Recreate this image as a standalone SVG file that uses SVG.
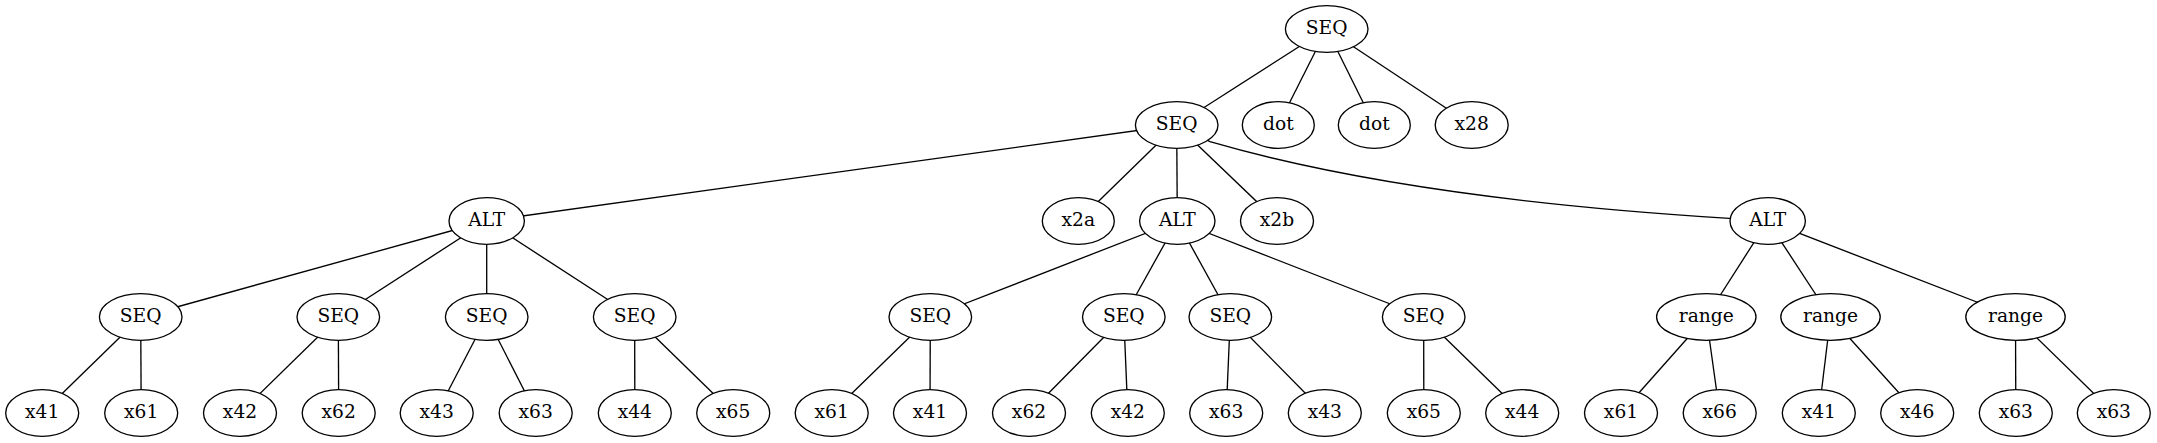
<svg xmlns="http://www.w3.org/2000/svg" width="2157" height="443" viewBox="0 0 2157 443">
<style>
.n ellipse{fill:#fff;stroke:#000;stroke-width:1.33}
.n text{font-family:"DejaVu Serif","Liberation Serif",serif;font-size:18.67px;text-anchor:middle;fill:#000}
#edges line,#edges path{stroke:#000;stroke-width:1.33;fill:none}
</style>
<rect width="2157" height="443" fill="#fff"/>
<g id="edges">
<line x1="1326.7" y1="29" x2="1176.7" y2="125"/>
<line x1="1326.7" y1="29" x2="1278.3" y2="125"/>
<line x1="1326.7" y1="29" x2="1374.3" y2="125"/>
<line x1="1326.7" y1="29" x2="1471.7" y2="125"/>
<line x1="1176.7" y1="125" x2="486.7" y2="221"/>
<line x1="1176.7" y1="125" x2="1078.3" y2="221"/>
<line x1="1176.7" y1="125" x2="1177.3" y2="221"/>
<line x1="1176.7" y1="125" x2="1277" y2="221"/>
<path d="M1176.7 125 L1210 141.7 C1340.7 179.7 1513.8 205.2 1729.3 218.3 L1767.7 221"/>
<line x1="486.7" y1="221" x2="140.7" y2="317"/>
<line x1="486.7" y1="221" x2="338.3" y2="317"/>
<line x1="486.7" y1="221" x2="486.7" y2="317"/>
<line x1="486.7" y1="221" x2="634.7" y2="317"/>
<line x1="1177.3" y1="221" x2="930.3" y2="317"/>
<line x1="1177.3" y1="221" x2="1123.8" y2="317"/>
<line x1="1177.3" y1="221" x2="1230.3" y2="317"/>
<line x1="1177.3" y1="221" x2="1423.7" y2="317"/>
<line x1="1767.7" y1="221" x2="1706.3" y2="317"/>
<line x1="1767.7" y1="221" x2="1830.5" y2="317"/>
<line x1="1767.7" y1="221" x2="2015.5" y2="317"/>
<line x1="140.7" y1="317" x2="42.2" y2="413"/>
<line x1="140.7" y1="317" x2="141.2" y2="413"/>
<line x1="338.3" y1="317" x2="240" y2="413"/>
<line x1="338.3" y1="317" x2="338.7" y2="413"/>
<line x1="486.7" y1="317" x2="436.7" y2="413"/>
<line x1="486.7" y1="317" x2="535.7" y2="413"/>
<line x1="634.7" y1="317" x2="634.8" y2="413"/>
<line x1="634.7" y1="317" x2="733.2" y2="413"/>
<line x1="930.3" y1="317" x2="831.7" y2="413"/>
<line x1="930.3" y1="317" x2="930" y2="413"/>
<line x1="1123.8" y1="317" x2="1029" y2="413"/>
<line x1="1123.8" y1="317" x2="1127.8" y2="413"/>
<line x1="1230.3" y1="317" x2="1226.2" y2="413"/>
<line x1="1230.3" y1="317" x2="1324.8" y2="413"/>
<line x1="1423.7" y1="317" x2="1423.8" y2="413"/>
<line x1="1423.7" y1="317" x2="1522.2" y2="413"/>
<line x1="1706.3" y1="317" x2="1621" y2="413"/>
<line x1="1706.3" y1="317" x2="1719.7" y2="413"/>
<line x1="1830.5" y1="317" x2="1818.8" y2="413"/>
<line x1="1830.5" y1="317" x2="1917.2" y2="413"/>
<line x1="2015.5" y1="317" x2="2015.8" y2="413"/>
<line x1="2015.5" y1="317" x2="2113.8" y2="413"/>
</g>
<g id="n0" class="n"><ellipse cx="1326.7" cy="29" rx="41.3" ry="23.3"/><text x="1326.7" y="34.3">SEQ</text></g>
<g id="n1" class="n"><ellipse cx="1176.7" cy="125" rx="41.3" ry="23.3"/><text x="1176.7" y="130.3">SEQ</text></g>
<g id="n2" class="n"><ellipse cx="1278.3" cy="125" rx="36" ry="23.3"/><text x="1278.3" y="130.3">dot</text></g>
<g id="n3" class="n"><ellipse cx="1374.3" cy="125" rx="36" ry="23.3"/><text x="1374.3" y="130.3">dot</text></g>
<g id="n4" class="n"><ellipse cx="1471.7" cy="125" rx="36.5" ry="23.3"/><text x="1471.7" y="130.3">x28</text></g>
<g id="n5" class="n"><ellipse cx="486.7" cy="221" rx="37.7" ry="23.3"/><text x="486.7" y="226.3">ALT</text></g>
<g id="n6" class="n"><ellipse cx="1078.3" cy="221" rx="36" ry="23.3"/><text x="1078.3" y="226.3">x2a</text></g>
<g id="n7" class="n"><ellipse cx="1177.3" cy="221" rx="37.7" ry="23.3"/><text x="1177.3" y="226.3">ALT</text></g>
<g id="n8" class="n"><ellipse cx="1277" cy="221" rx="36.5" ry="23.3"/><text x="1277" y="226.3">x2b</text></g>
<g id="n9" class="n"><ellipse cx="1767.7" cy="221" rx="37.7" ry="23.3"/><text x="1767.7" y="226.3">ALT</text></g>
<g id="n10" class="n"><ellipse cx="140.7" cy="317" rx="41.3" ry="23.3"/><text x="140.7" y="322.3">SEQ</text></g>
<g id="n11" class="n"><ellipse cx="338.3" cy="317" rx="41.3" ry="23.3"/><text x="338.3" y="322.3">SEQ</text></g>
<g id="n12" class="n"><ellipse cx="486.7" cy="317" rx="41.3" ry="23.3"/><text x="486.7" y="322.3">SEQ</text></g>
<g id="n13" class="n"><ellipse cx="634.7" cy="317" rx="41.3" ry="23.3"/><text x="634.7" y="322.3">SEQ</text></g>
<g id="n14" class="n"><ellipse cx="930.3" cy="317" rx="41.3" ry="23.3"/><text x="930.3" y="322.3">SEQ</text></g>
<g id="n15" class="n"><ellipse cx="1123.8" cy="317" rx="41.3" ry="23.3"/><text x="1123.8" y="322.3">SEQ</text></g>
<g id="n16" class="n"><ellipse cx="1230.3" cy="317" rx="41.3" ry="23.3"/><text x="1230.3" y="322.3">SEQ</text></g>
<g id="n17" class="n"><ellipse cx="1423.7" cy="317" rx="41.3" ry="23.3"/><text x="1423.7" y="322.3">SEQ</text></g>
<g id="n18" class="n"><ellipse cx="1706.3" cy="317" rx="49.7" ry="23.3"/><text x="1706.3" y="322.3">range</text></g>
<g id="n19" class="n"><ellipse cx="1830.5" cy="317" rx="49.7" ry="23.3"/><text x="1830.5" y="322.3">range</text></g>
<g id="n20" class="n"><ellipse cx="2015.5" cy="317" rx="49.7" ry="23.3"/><text x="2015.5" y="322.3">range</text></g>
<g id="n21" class="n"><ellipse cx="42.2" cy="413" rx="36.5" ry="23.3"/><text x="42.2" y="418.3">x41</text></g>
<g id="n22" class="n"><ellipse cx="141.2" cy="413" rx="36.5" ry="23.3"/><text x="141.2" y="418.3">x61</text></g>
<g id="n23" class="n"><ellipse cx="240" cy="413" rx="36.5" ry="23.3"/><text x="240" y="418.3">x42</text></g>
<g id="n24" class="n"><ellipse cx="338.7" cy="413" rx="36.5" ry="23.3"/><text x="338.7" y="418.3">x62</text></g>
<g id="n25" class="n"><ellipse cx="436.7" cy="413" rx="36.5" ry="23.3"/><text x="436.7" y="418.3">x43</text></g>
<g id="n26" class="n"><ellipse cx="535.7" cy="413" rx="36.5" ry="23.3"/><text x="535.7" y="418.3">x63</text></g>
<g id="n27" class="n"><ellipse cx="634.8" cy="413" rx="36.5" ry="23.3"/><text x="634.8" y="418.3">x44</text></g>
<g id="n28" class="n"><ellipse cx="733.2" cy="413" rx="36.5" ry="23.3"/><text x="733.2" y="418.3">x65</text></g>
<g id="n29" class="n"><ellipse cx="831.7" cy="413" rx="36.5" ry="23.3"/><text x="831.7" y="418.3">x61</text></g>
<g id="n30" class="n"><ellipse cx="930" cy="413" rx="36.5" ry="23.3"/><text x="930" y="418.3">x41</text></g>
<g id="n31" class="n"><ellipse cx="1029" cy="413" rx="36.5" ry="23.3"/><text x="1029" y="418.3">x62</text></g>
<g id="n32" class="n"><ellipse cx="1127.8" cy="413" rx="36.5" ry="23.3"/><text x="1127.8" y="418.3">x42</text></g>
<g id="n33" class="n"><ellipse cx="1226.2" cy="413" rx="36.5" ry="23.3"/><text x="1226.2" y="418.3">x63</text></g>
<g id="n34" class="n"><ellipse cx="1324.8" cy="413" rx="36.5" ry="23.3"/><text x="1324.8" y="418.3">x43</text></g>
<g id="n35" class="n"><ellipse cx="1423.8" cy="413" rx="36.5" ry="23.3"/><text x="1423.8" y="418.3">x65</text></g>
<g id="n36" class="n"><ellipse cx="1522.2" cy="413" rx="36.5" ry="23.3"/><text x="1522.2" y="418.3">x44</text></g>
<g id="n37" class="n"><ellipse cx="1621" cy="413" rx="36.5" ry="23.3"/><text x="1621" y="418.3">x61</text></g>
<g id="n38" class="n"><ellipse cx="1719.7" cy="413" rx="36.5" ry="23.3"/><text x="1719.7" y="418.3">x66</text></g>
<g id="n39" class="n"><ellipse cx="1818.8" cy="413" rx="36.5" ry="23.3"/><text x="1818.8" y="418.3">x41</text></g>
<g id="n40" class="n"><ellipse cx="1917.2" cy="413" rx="36.5" ry="23.3"/><text x="1917.2" y="418.3">x46</text></g>
<g id="n41" class="n"><ellipse cx="2015.8" cy="413" rx="36.5" ry="23.3"/><text x="2015.8" y="418.3">x63</text></g>
<g id="n42" class="n"><ellipse cx="2113.8" cy="413" rx="36.5" ry="23.3"/><text x="2113.8" y="418.3">x63</text></g>
</svg>
